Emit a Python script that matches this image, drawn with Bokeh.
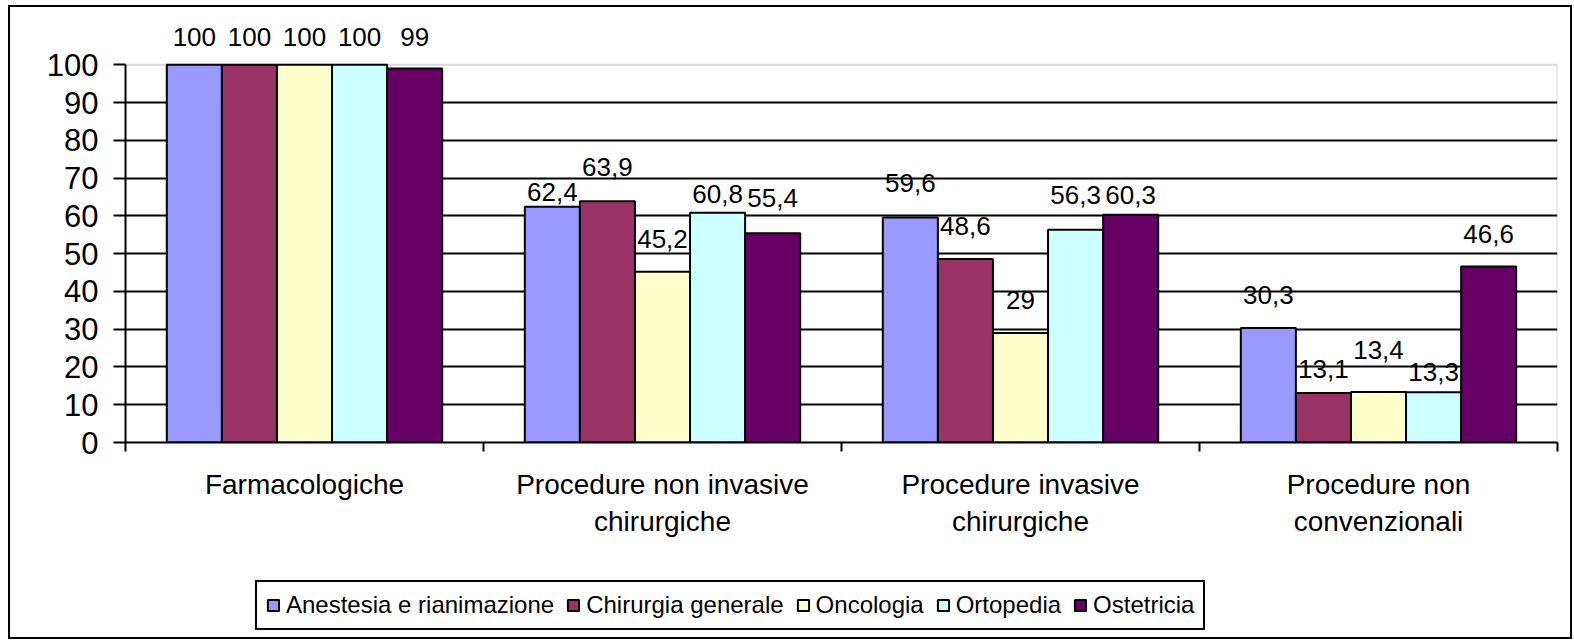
from bokeh.plotting import figure
from bokeh.layouts import column
from bokeh.models import (ColumnDataSource, LabelSet, Legend, LegendItem, FixedTicker,
                          CustomJSTickFormatter, Range1d, BoxAnnotation)
from bokeh.core.properties import value
from bokeh.embed import file_html
from bokeh.resources import INLINE

# ---- data ----
categories = ["Farmacologiche", "Procedure non invasive\nchirurgiche",
              "Procedure invasive\nchirurgiche", "Procedure non\nconvenzionali"]
series_names = ["Anestesia e rianimazione", "Chirurgia generale", "Oncologia",
                "Ortopedia", "Ostetricia"]
anestesia = [100, 62.4, 59.6, 30.3]
chirurgia = [100, 63.9, 48.6, 13.1]
oncologia = [100, 45.2, 29, 13.4]
ortopedia = [100, 60.8, 56.3, 13.3]
ostetricia = [99, 55.4, 60.3, 46.6]
y_ticks = [0, 10, 20, 30, 40, 50, 60, 70, 80, 90, 100]

# ---- style ----
colors = ["#9999FF", "#993366", "#FFFFCC", "#CCFFFF", "#660066"]
# pixel gap between bar top and label baseline (per series, per category), as placed in the reference
label_gap_px = [
    [19, 6, 25, 24],
    [19, 25, 24, 15],
    [19, 24, 24, 33],
    [19, 10, 26, 11],
    [23, 26, 11, 24],
]
FONT = "Liberation Sans"

series_values = [anestesia, chirurgia, oncologia, ortopedia, ostetricia]
n_series = len(series_values)
bar_w = 1.0 / (n_series + 1.5)
y_max = y_ticks[-1]

# ---------------- main chart ----------------
p = figure(width=1560, height=560, output_backend="svg", toolbar_location=None,
           x_range=Range1d(0, len(categories)), y_range=Range1d(0, y_max * 1.12),
           min_border_left=115, min_border_right=13, min_border_top=12, min_border_bottom=125)
p.background_fill_color = "white"
p.border_fill_color = "white"
p.outline_line_color = None

# plot-area border (grey top / right), stops at 100
p.add_layout(BoxAnnotation(left=0, right=len(categories), bottom=0, top=y_max,
                           fill_alpha=0, line_color="#808080", line_width=2, level="underlay"))

for j, vals in enumerate(series_values):
    xs = [i + (0.75 + j + 0.5) * bar_w for i in range(len(categories))]
    texts = [str(int(v)) if float(v).is_integer() else str(v).replace(".", ",") for v in vals]
    src = ColumnDataSource(dict(x=xs, top=vals, text=texts, dy=label_gap_px[j]))
    p.vbar(x="x", top="top", width=bar_w, bottom=0, source=src,
           fill_color=colors[j], line_color="black", line_width=2)
    labels = LabelSet(x="x", y="top", text="text", y_offset="dy", source=src,
                      text_align="center", text_baseline="alphabetic",
                      text_font=value(FONT), text_font_size="26px", text_color="black")
    p.add_layout(labels)

# grid
p.xgrid.visible = False
p.ygrid.grid_line_color = "black"
p.ygrid.grid_line_width = 2
p.ygrid.ticker = FixedTicker(ticks=y_ticks[1:-1])

# y axis
p.yaxis.ticker = FixedTicker(ticks=y_ticks)
p.yaxis.bounds = (0, y_max)
p.yaxis.axis_line_color = "black"
p.yaxis.axis_line_width = 2
p.yaxis.major_tick_line_color = "black"
p.yaxis.major_tick_line_width = 2
p.yaxis.major_tick_out = 12
p.yaxis.major_tick_in = 0
p.yaxis.minor_tick_line_color = None
p.yaxis.major_label_text_font = FONT
p.yaxis.major_label_text_font_size = "31px"
p.yaxis.major_label_text_color = "black"
p.yaxis.major_label_standoff = 15

# x axis: labels at category centres, tick marks at category boundaries
p.xaxis.ticker = FixedTicker(ticks=[i + 0.5 for i in range(len(categories))],
                             minor_ticks=list(range(len(categories) + 1)))
p.xaxis.formatter = CustomJSTickFormatter(args=dict(labels=categories),
                                          code="return labels[Math.floor(tick)];")
p.xaxis.axis_line_color = "black"
p.xaxis.axis_line_width = 2
p.xaxis.major_tick_line_color = None
p.xaxis.major_tick_out = 0
p.xaxis.major_tick_in = 0
p.xaxis.minor_tick_line_color = "black"
p.xaxis.minor_tick_line_width = 2
p.xaxis.minor_tick_out = 9
p.xaxis.minor_tick_in = 0
p.xaxis.major_label_text_font = FONT
p.xaxis.major_label_text_font_size = "28px"
p.xaxis.major_label_text_color = "black"
p.xaxis.major_label_standoff = 17

# ---------------- legend strip ----------------
pl = figure(width=1560, height=70, output_backend="svg", toolbar_location=None,
            x_range=Range1d(0, 1), y_range=Range1d(0, 1),
            x_axis_type=None, y_axis_type=None,
            min_border_left=0, min_border_right=0, min_border_top=0, min_border_bottom=0)
pl.outline_line_color = None
pl.grid.visible = False
pl.background_fill_color = "white"
pl.border_fill_color = "white"

# legend proxies: zero-size bars hidden beneath the opaque legend box; only their swatches show
legend_items = []
for j, name in enumerate(series_names):
    proxy = pl.vbar(x=[0.4], top=[0.45], bottom=0.45, width=0,
                    fill_color=colors[j], line_color="black", line_width=2, line_alpha=0)
    proxy.glyph.line_alpha = 1.0
    legend_items.append(LegendItem(label=name, renderers=[proxy]))

legend = Legend(items=legend_items, orientation="horizontal", location=(130, 7),
                label_text_font=FONT, label_text_font_size="24px", label_text_color="black",
                glyph_width=14, glyph_height=14, label_standoff=6, spacing=12,
                padding=9, margin=0, border_line_color="black", border_line_width=2,
                border_line_alpha=1.0,
                background_fill_color="white", background_fill_alpha=1.0)
pl.add_layout(legend, "center")

layout = column(p, pl, spacing=0,
                styles={"border": "2px solid black", "margin-left": "8px", "margin-top": "5px"})

open("out.html", "w").write(file_html(layout, INLINE))
